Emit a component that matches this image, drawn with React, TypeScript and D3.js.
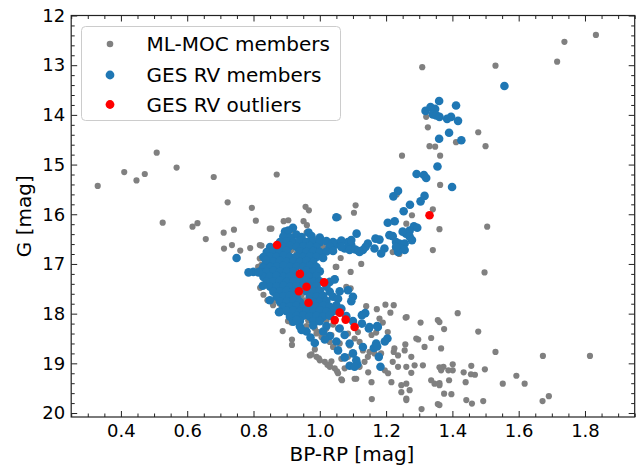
import { useEffect, useRef } from "react"
import * as d3 from "d3"

type Pt = [number, number]

// BP-RP, G
const mocMembers: Pt[] = [
  [0.33, 15.43], [0.41, 15.15], [0.447, 15.32], [0.472, 15.19], [0.508, 14.76], [0.568, 15.06], [0.68, 15.25], [0.87, 15.2],
  [0.526, 16.17], [0.616, 16.25], [0.631, 16.18], [0.722, 15.76], [0.795, 15.87], [0.807, 16.13], [0.71, 16.37], [0.741, 16.31],
  [0.854, 16.29], [0.891, 16.14], [0.905, 16.12], [0.957, 15.85], [0.967, 15.92], [0.951, 16.14], [0.961, 16.22], [0.656, 16.5],
  [0.711, 16.69], [0.735, 16.62], [0.76, 16.73], [0.79, 16.68], [0.824, 16.63], [0.827, 16.87], [0.849, 16.29], [0.918, 16.32],
  [0.96, 16.37], [0.819, 16.62], [0.819, 16.89], [0.814, 17.06], [0.824, 17.02],
  [0.842, 17.73], [0.859, 17.83], [0.864, 17.73], [0.879, 17.8], [0.888, 18.35], [0.916, 18.52], [0.916, 18.63],
  [0.97, 18.84], [0.985, 18.72], [0.997, 18.9], [0.921, 18.12], [0.933, 18.17], [0.944, 18.1], [0.904, 18.15], [0.914, 18.18],
  [0.914, 16.72], [0.93, 16.79], [0.985, 16.52], [1.01, 16.66], [0.945, 17.63], [0.955, 17.73], [0.904, 17.5], [0.879, 17.5],
  [1.05, 17.06], [1.063, 16.88], [1.045, 17.29], [1.08, 17.46], [1.048, 17.06], [1.093, 17.49],
  [0.99, 18.4], [1.005, 18.37], [1.035, 18.43], [1.055, 18.3], [0.995, 18.37], [1.005, 18.47], [1.02, 18.44], [1.03, 18.57],
  [1.04, 18.67], [0.975, 18.82], [0.99, 18.87], [1.0, 18.94], [1.015, 18.97], [1.03, 19.04], [1.045, 19.1], [1.055, 19.2],
  [1.023, 19.03], [1.035, 18.96], [1.052, 19.16], [1.03, 19.07], [1.065, 19.32], [1.11, 19.31],
  [0.96, 18.25], [0.985, 18.3], [1.02, 18.3], [1.04, 18.22], [0.965, 18.14], [1.02, 18.14], [0.83, 17.62], [0.82, 17.48],
  [1.108, 15.82], [1.103, 15.97], [1.057, 16.06], [1.278, 16.02], [1.341, 15.9], [1.361, 16.3], [1.341, 16.72], [1.261, 16.19],
  [1.125, 17.0], [1.093, 17.16], [1.22, 16.76], [1.24, 16.8],
  [1.309, 13.04], [1.53, 13.01], [1.716, 12.93], [1.738, 12.53], [1.833, 12.39], [1.321, 14.04], [1.326, 14.25], [1.411, 14.55],
  [1.478, 14.35], [1.5, 14.63], [1.331, 14.63], [1.348, 14.64], [1.363, 14.82], [1.248, 14.82], [1.363, 15.41], [1.232, 15.6],
  [1.505, 16.25], [1.497, 17.17],
  [1.361, 18.17], [1.375, 18.31], [1.416, 17.99], [1.478, 18.36], [1.366, 18.7], [1.53, 18.77], [1.673, 18.85], [1.815, 18.85],
  [1.361, 19.08], [1.373, 19.07], [1.366, 19.14], [1.388, 19.14], [1.401, 19.14], [1.401, 19.02], [1.434, 19.18], [1.457, 19.05],
  [1.456, 19.22], [1.468, 19.23], [1.498, 19.12], [1.44, 19.38], [1.39, 19.34], [1.361, 19.44], [1.375, 19.61], [1.397, 19.62],
  [1.442, 19.74], [1.459, 19.81], [1.493, 19.76], [1.552, 19.41], [1.593, 19.25], [1.618, 19.41], [1.672, 19.76], [1.691, 19.66],
  [1.361, 19.84], [1.307, 19.92], [1.356, 19.82],
  [1.14, 17.85], [1.172, 17.91], [1.198, 17.82], [1.223, 17.83], [1.213, 17.98], [1.259, 18.08], [1.304, 18.18], [1.356, 18.13],
  [1.156, 18.43], [1.17, 18.38], [1.205, 18.37], [1.258, 18.62], [1.291, 18.5], [1.336, 18.49], [1.223, 18.77], [1.256, 18.74],
  [1.276, 18.87], [1.316, 18.67], [1.311, 19.04], [1.22, 18.97], [1.236, 19.07], [1.261, 19.07], [1.286, 19.04], [1.276, 19.19],
  [1.336, 19.34], [1.346, 19.41], [1.361, 19.4], [1.246, 19.44], [1.261, 19.41], [1.271, 19.54], [1.246, 19.58], [1.261, 19.71],
  [1.146, 19.18], [1.156, 19.38], [1.196, 19.14], [1.206, 19.2], [1.216, 19.38], [1.067, 19.34], [1.105, 19.31], [1.157, 19.72],
  [1.261, 19.74], [1.065, 18.91], [1.085, 18.87], [1.075, 19.1], [1.12, 19.07], [1.135, 18.97], [1.145, 18.87], [1.15, 18.77],
  [1.13, 18.74], [1.165, 18.8], [1.185, 18.8], [1.105, 18.5], [1.09, 18.64], [1.06, 18.6], [1.12, 18.57], [1.085, 18.4],
  [1.115, 18.37], [1.18, 18.1], [1.19, 18.18], [1.225, 18.7], [1.236, 18.84], [1.297, 18.52], [1.262, 18.07],
]

const gesMembers: Pt[] = [
  [1.557, 13.42], [1.36, 13.72], [1.411, 13.81], [1.319, 13.92], [1.334, 13.84], [1.348, 13.88], [1.341, 13.99], [1.351, 14.01],
  [1.361, 14.04], [1.384, 14.08], [1.396, 14.04], [1.417, 14.12], [1.39, 14.36], [1.36, 14.48], [1.427, 14.51], [1.355, 15.04],
  [1.292, 15.19], [1.314, 15.21], [1.321, 15.27], [1.399, 15.45], [1.236, 15.53], [1.222, 15.64], [1.304, 15.74], [1.316, 15.63],
  [1.272, 15.81], [1.253, 15.94], [1.205, 16.17], [1.226, 16.14], [1.284, 16.24], [1.294, 16.27], [1.271, 16.33], [1.26, 16.39],
  [1.25, 16.35], [1.271, 16.45], [1.278, 16.52], [1.21, 16.42], [1.22, 16.44], [1.18, 16.51], [1.23, 16.56], [1.24, 16.59],
  [1.256, 16.59], [1.246, 16.69], [1.256, 16.72], [1.236, 16.76], [1.23, 16.66], [1.111, 16.39], [1.145, 16.59], [1.138, 16.66],
  [1.13, 16.72], [1.12, 16.76], [1.165, 16.69], [1.195, 16.69], [1.185, 16.79], [1.168, 16.49], [1.085, 16.56], [1.095, 16.62],
  [1.075, 16.69], [1.09, 16.72], [1.107, 16.71], [1.117, 16.74], [1.055, 16.59], [1.045, 16.62], [1.095, 16.52], [1.05, 16.06],
  [0.895, 16.35], [0.919, 16.27], [0.929, 16.41], [0.966, 16.37], [0.905, 16.33],
  [0.89, 16.45], [0.91, 16.47], [0.945, 16.46], [0.975, 16.44], [1.0, 16.47],
  [0.88, 16.56], [0.9, 16.55], [0.92, 16.56], [0.94, 16.54], [0.96, 16.56], [0.98, 16.55], [1.0, 16.56], [1.02, 16.54], [1.04, 16.56], [1.065, 16.53],
  [0.85, 16.66], [0.87, 16.65], [0.89, 16.66], [0.91, 16.64], [0.93, 16.66], [0.95, 16.65], [0.97, 16.64], [0.99, 16.66], [1.03, 16.65], [1.065, 16.66],
  [0.84, 16.76], [0.86, 16.75], [0.88, 16.76], [0.9, 16.74], [0.94, 16.75], [0.96, 16.76], [0.98, 16.74], [1.0, 16.76], [1.02, 16.75], [1.04, 16.74],
  [0.83, 16.86], [0.85, 16.85], [0.87, 16.86], [0.89, 16.84], [0.91, 16.86], [0.93, 16.85], [0.95, 16.86], [0.97, 16.85], [0.99, 16.86], [1.01, 16.88],
  [0.84, 16.96], [0.86, 16.95], [0.88, 16.94], [0.9, 16.96], [0.92, 16.95], [0.94, 16.96], [0.96, 16.94], [0.98, 16.96],
  [0.83, 17.05], [0.85, 17.06], [0.87, 17.05], [0.89, 17.04], [0.91, 17.06], [0.93, 17.05], [0.95, 17.06], [0.97, 17.04], [0.99, 17.06],
  [0.8, 17.16], [0.82, 17.15], [0.84, 17.16], [0.86, 17.14], [0.88, 17.16], [0.9, 17.15], [0.92, 17.16], [0.96, 17.14], [0.98, 17.16], [1.0, 17.15],
  [0.83, 17.26], [0.85, 17.25], [0.87, 17.24], [0.89, 17.26], [0.91, 17.25], [0.93, 17.26], [0.95, 17.24], [0.97, 17.26], [0.99, 17.25],
  [0.84, 17.36], [0.86, 17.35], [0.88, 17.34], [0.9, 17.36], [0.92, 17.35], [0.94, 17.36], [0.96, 17.34], [0.98, 17.36], [1.0, 17.35], [1.03, 17.36], [1.045, 17.31],
  [0.85, 17.46], [0.87, 17.45], [0.89, 17.44], [0.91, 17.46], [0.93, 17.45], [0.95, 17.44], [0.97, 17.46], [0.99, 17.45], [1.02, 17.46],
  [0.86, 17.56], [0.88, 17.55], [0.9, 17.54], [0.92, 17.56], [0.96, 17.55], [0.98, 17.56], [1.0, 17.54], [1.03, 17.56], [1.06, 17.55], [1.085, 17.53],
  [0.87, 17.66], [0.89, 17.65], [0.91, 17.64], [0.93, 17.66], [0.97, 17.65], [0.99, 17.66], [1.01, 17.64], [1.04, 17.66], [1.055, 17.7], [1.1, 17.66],
  [0.88, 17.76], [0.9, 17.75], [0.92, 17.74], [0.94, 17.76], [0.98, 17.75], [1.0, 17.76], [1.02, 17.74], [1.095, 17.75],
  [0.89, 17.86], [0.91, 17.85], [0.93, 17.84], [0.95, 17.86], [0.97, 17.85], [0.99, 17.86], [1.01, 17.84], [1.03, 17.86], [1.05, 17.83], [1.065, 17.9],
  [0.88, 17.96], [0.9, 17.95], [0.92, 17.94], [0.94, 17.96], [0.96, 17.95], [0.98, 17.96], [1.0, 17.94], [1.02, 17.96], [1.04, 17.95], [1.137, 17.99],
  [0.91, 18.06], [0.93, 18.05], [0.95, 18.04], [0.97, 18.06], [0.99, 18.05], [1.01, 18.06], [1.03, 18.04], [1.08, 18.05], [1.127, 18.03],
  [0.92, 18.16], [0.94, 18.15], [0.98, 18.16], [1.0, 18.15], [1.1, 18.15], [1.127, 18.2],
  [0.94, 18.26], [0.98, 18.24], [1.02, 18.25], [1.06, 18.3], [1.148, 18.3], [1.173, 18.25],
  [0.96, 18.36], [1.01, 18.36], [1.075, 18.43],
  [0.972, 18.48], [1.03, 18.45], [1.09, 18.6],
  [0.985, 18.59], [1.015, 18.52], [1.05, 18.56], [1.204, 18.5], [1.196, 18.56],
  [1.13, 18.67], [1.17, 18.6], [1.163, 18.69], [1.173, 18.66], [1.055, 18.74], [1.1, 18.8], [1.178, 18.87], [1.075, 18.88],
  [1.09, 19.05], [1.113, 19.02], [1.11, 18.94], [1.105, 19.07], [1.183, 19.07], [1.15, 18.27], [1.175, 18.27],
  [0.749, 16.88], [0.785, 17.17], [0.815, 17.17], [0.837, 16.92], [0.828, 17.44], [0.849, 17.73], [0.877, 17.97], [0.929, 18.13], [0.945, 18.33],
]

const gesOutliers: Pt[] = [
  [0.871, 16.62], [0.94, 17.2], [0.96, 17.46], [0.937, 17.55], [0.966, 17.78], [1.013, 17.37],
  [1.06, 17.98], [1.045, 18.13], [1.078, 18.12], [1.105, 18.27], [1.331, 16.02],
]

const legendLabels = ["ML-MOC members", "GES RV members", "GES RV outliers"]
const xTicks = [0.4, 0.6, 0.8, 1.0, 1.2, 1.4, 1.6, 1.8]
const yTicks = [12, 13, 14, 15, 16, 17, 18, 19, 20]

const W = 641, H = 467
const left = 71.2, right = 634.7, top = 15.5, bottom = 417
const font = "DejaVu Sans, sans-serif"

export default function App() {
  const ref = useRef<SVGSVGElement>(null)

  useEffect(() => {
    const svg = d3.select(ref.current)
    svg.selectAll("*").remove()

    const x = d3.scaleLinear().domain([0.25, 1.95]).range([left, right])
    const y = d3.scaleLinear().domain([12, 20.08]).range([top, bottom])

    const xMinor = d3.range(0.25, 1.951, 0.05).filter((v) => !xTicks.some((t) => Math.abs(t - v) < 1e-6))
    const yMinor = d3.range(12, 20.01, 0.2).filter((v) => Math.abs(v - Math.round(v)) > 1e-6)

    const styleAxis = (g: any, labels: boolean) => {
      g.select(".domain").remove()
      g.selectAll("line").attr("stroke", "#222").attr("stroke-width", 1)
      if (labels) g.selectAll("text").attr("font-family", font).attr("font-size", 18).attr("fill", "#000")
      else g.selectAll("text").remove()
    }

    // major / minor ticks pointing inward on all four sides
    const addAxes = (ticks: number[], size: number, labels: boolean) => {
      svg.append("g").attr("transform", `translate(0,${bottom})`)
        .call(d3.axisBottom(x).tickValues(ticks).tickSize(-size).tickSizeOuter(0).tickPadding(7).tickFormat(d3.format(".1f")) as any)
        .call((g: any) => styleAxis(g, labels))
      svg.append("g").attr("transform", `translate(0,${top})`)
        .call(d3.axisTop(x).tickValues(ticks).tickSize(-size).tickSizeOuter(0) as any)
        .call((g: any) => styleAxis(g, false))
    }
    const addYAxes = (ticks: number[], size: number, labels: boolean) => {
      svg.append("g").attr("transform", `translate(${left},0)`)
        .call(d3.axisLeft(y).tickValues(ticks).tickSize(-size).tickSizeOuter(0).tickPadding(6).tickFormat(d3.format("d")) as any)
        .call((g: any) => styleAxis(g, labels))
      svg.append("g").attr("transform", `translate(${right},0)`)
        .call(d3.axisRight(y).tickValues(ticks).tickSize(-size).tickSizeOuter(0) as any)
        .call((g: any) => styleAxis(g, false))
    }
    addAxes(xTicks, 6, true)
    addAxes(xMinor, 3.5, false)
    addYAxes(yTicks, 6, true)
    addYAxes(yMinor, 3.5, false)

    const plot = svg.append("g")
    plot.selectAll(".moc").data(mocMembers).join("circle")
      .attr("cx", (d) => x(d[0])).attr("cy", (d) => y(d[1])).attr("r", 3.1).attr("fill", "#808080")
    plot.selectAll(".ges").data(gesMembers).join("circle")
      .attr("cx", (d) => x(d[0])).attr("cy", (d) => y(d[1])).attr("r", 4.3).attr("fill", "#1f77b4")
    plot.selectAll(".out").data(gesOutliers).join("circle")
      .attr("cx", (d) => x(d[0])).attr("cy", (d) => y(d[1])).attr("r", 4.3).attr("fill", "#ff0000")

    svg.append("rect")
      .attr("x", left).attr("y", top).attr("width", right - left).attr("height", bottom - top)
      .attr("fill", "none").attr("stroke", "#222").attr("stroke-width", 1.2)

    // legend
    const lg = svg.append("g")
    lg.append("rect").attr("x", 81.5).attr("y", 26.5).attr("width", 259).attr("height", 94).attr("rx", 4)
      .attr("fill", "white").attr("fill-opacity", 0.8).attr("stroke", "#cccccc")
    const colors = ["#808080", "#1f77b4", "#ff0000"]
    const radii = [3.3, 4.4, 4.4]
    const rows = [44, 75, 104.5]
    legendLabels.forEach((label, i) => {
      lg.append("circle").attr("cx", 110).attr("cy", rows[i]).attr("r", radii[i]).attr("fill", colors[i])
      lg.append("text").attr("x", 146.5).attr("y", rows[i]).attr("dy", "0.36em")
        .attr("font-family", font).attr("font-size", 20).attr("fill", "#000").text(label)
    })

    svg.append("text").attr("x", (left + right) / 2 - 1).attr("y", 461)
      .attr("text-anchor", "middle").attr("font-family", font).attr("font-size", 20).text("BP-RP [mag]")
    svg.append("text").attr("transform", `translate(31,${(top + bottom) / 2}) rotate(-90)`)
      .attr("text-anchor", "middle").attr("font-family", font).attr("font-size", 20).text("G [mag]")
  }, [])

  return (
    <svg ref={ref} width={W} height={H}
      style={{ position: "absolute", left: 0, top: 0, background: "white" }} />
  )
}
